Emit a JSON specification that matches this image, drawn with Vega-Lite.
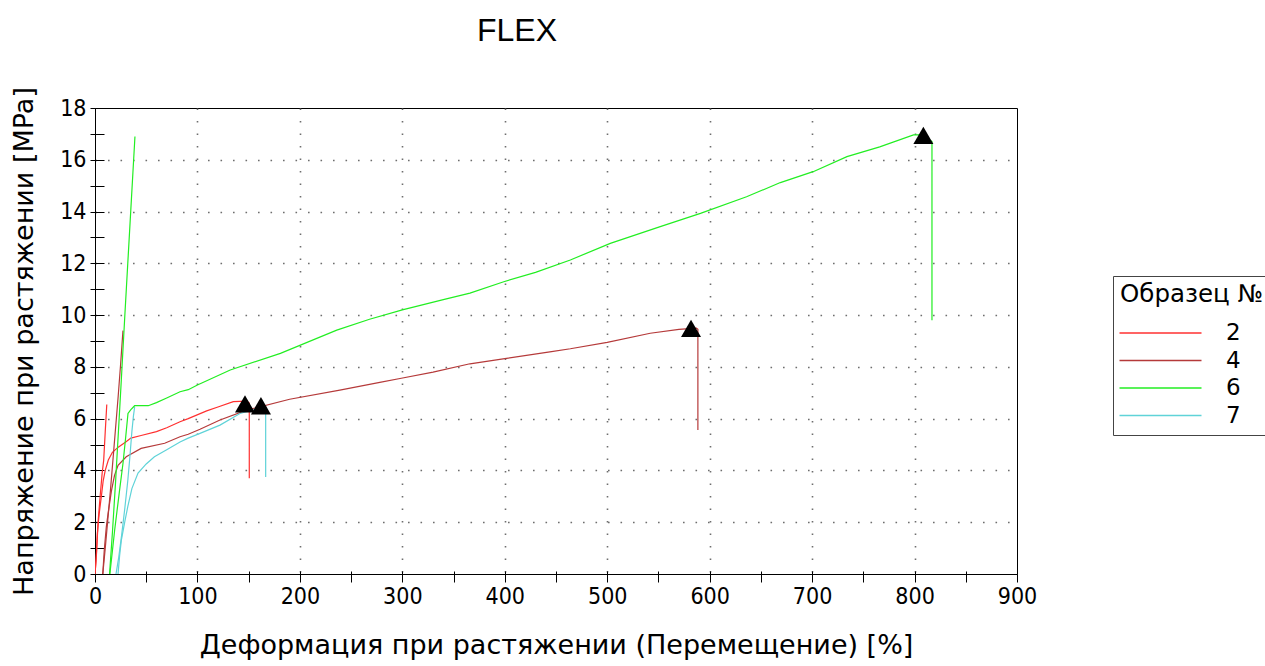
{
  "$schema": "https://vega.github.io/schema/vega-lite/v6.json",
  "width": 922,
  "height": 466,
  "autosize": {"type": "none"},
  "padding": {"left": 95, "top": 108, "right": 248, "bottom": 92},
  "background": "white",
  "config": {
    "view": {"stroke": "black", "strokeWidth": 1},
    "axis": {"labelFlush": false, "labelOverlap": false}
  },
  "title": {
    "text": "FLEX",
    "font": "Liberation Sans",
    "fontSize": 32,
    "fontWeight": "normal",
    "color": "black",
    "anchor": "middle",
    "dx": -39,
    "baseline": "alphabetic",
    "offset": 14
  },
  "datasets": {
    "curves": [
      {"s":"2","c":"m","i":0,"x":0,"y":0},{"s":"2","c":"m","i":1,"x":1,"y":0.5},{"s":"2","c":"m","i":2,"x":2.3,"y":1.57},{"s":"2","c":"m","i":3,"x":4,"y":2.3},{"s":"2","c":"m","i":4,"x":6.2,"y":3.0},{"s":"2","c":"m","i":5,"x":8,"y":3.6},{"s":"2","c":"m","i":6,"x":10,"y":4.0},{"s":"2","c":"m","i":7,"x":13,"y":4.4},{"s":"2","c":"m","i":8,"x":17,"y":4.7},{"s":"2","c":"m","i":9,"x":22.7,"y":4.9},{"s":"2","c":"m","i":10,"x":30,"y":5.1},{"s":"2","c":"m","i":11,"x":35,"y":5.25},{"s":"2","c":"m","i":12,"x":45,"y":5.35},{"s":"2","c":"m","i":13,"x":60,"y":5.5},{"s":"2","c":"m","i":14,"x":70,"y":5.65},{"s":"2","c":"m","i":15,"x":83,"y":5.88},{"s":"2","c":"m","i":16,"x":91,"y":6.0},{"s":"2","c":"m","i":17,"x":109,"y":6.3},{"s":"2","c":"m","i":18,"x":120,"y":6.45},{"s":"2","c":"m","i":19,"x":135,"y":6.66},{"s":"2","c":"m","i":20,"x":148,"y":6.68},{"s":"2","c":"m","i":21,"x":150.6,"y":6.6},{"s":"2","c":"m","i":22,"x":150.6,"y":3.7},
      {"s":"2","c":"s","i":0,"x":0,"y":0},{"s":"2","c":"s","i":1,"x":1.5,"y":0.8},{"s":"2","c":"s","i":2,"x":3,"y":2.0},{"s":"2","c":"s","i":3,"x":5,"y":3.0},{"s":"2","c":"s","i":4,"x":7,"y":3.9},{"s":"2","c":"s","i":5,"x":8.5,"y":4.4},{"s":"2","c":"s","i":6,"x":10,"y":5.5},{"s":"2","c":"s","i":7,"x":11.5,"y":6.55},
      {"s":"4","c":"m","i":0,"x":7.6,"y":0},{"s":"4","c":"m","i":1,"x":9,"y":0.9},{"s":"4","c":"m","i":2,"x":11,"y":1.8},{"s":"4","c":"m","i":3,"x":13,"y":2.4},{"s":"4","c":"m","i":4,"x":16,"y":3.2},{"s":"4","c":"m","i":5,"x":19,"y":3.8},{"s":"4","c":"m","i":6,"x":22.5,"y":4.2},{"s":"4","c":"m","i":7,"x":30.5,"y":4.53},{"s":"4","c":"m","i":8,"x":45,"y":4.85},{"s":"4","c":"m","i":9,"x":68,"y":5.05},{"s":"4","c":"m","i":10,"x":83,"y":5.3},{"s":"4","c":"m","i":11,"x":91,"y":5.4},{"s":"4","c":"m","i":12,"x":102.5,"y":5.59},{"s":"4","c":"m","i":13,"x":122,"y":5.95},{"s":"4","c":"m","i":14,"x":148,"y":6.33},{"s":"4","c":"m","i":15,"x":190,"y":6.75},{"s":"4","c":"m","i":16,"x":239,"y":7.1},{"s":"4","c":"m","i":17,"x":278,"y":7.4},{"s":"4","c":"m","i":18,"x":299,"y":7.56},{"s":"4","c":"m","i":19,"x":330,"y":7.8},{"s":"4","c":"m","i":20,"x":366,"y":8.12},{"s":"4","c":"m","i":21,"x":400,"y":8.32},{"s":"4","c":"m","i":22,"x":444,"y":8.58},{"s":"4","c":"m","i":23,"x":464,"y":8.7},{"s":"4","c":"m","i":24,"x":500,"y":8.95},{"s":"4","c":"m","i":25,"x":542,"y":9.3},{"s":"4","c":"m","i":26,"x":570,"y":9.45},{"s":"4","c":"m","i":27,"x":587,"y":9.5},{"s":"4","c":"m","i":28,"x":588.5,"y":9.45},{"s":"4","c":"m","i":29,"x":588.5,"y":5.56},
      {"s":"4","c":"s","i":0,"x":7.6,"y":0},{"s":"4","c":"s","i":1,"x":10,"y":1.0},{"s":"4","c":"s","i":2,"x":12.5,"y":2.1},{"s":"4","c":"s","i":3,"x":15,"y":3.2},{"s":"4","c":"s","i":4,"x":17.5,"y":4.4},{"s":"4","c":"s","i":5,"x":20,"y":5.6},{"s":"4","c":"s","i":6,"x":22.5,"y":6.8},{"s":"4","c":"s","i":7,"x":25,"y":8.1},{"s":"4","c":"s","i":8,"x":27.3,"y":9.4},
      {"s":"6","c":"m","i":0,"x":14.5,"y":0},{"s":"6","c":"m","i":1,"x":17,"y":0.9},{"s":"6","c":"m","i":2,"x":19.2,"y":1.7},{"s":"6","c":"m","i":3,"x":22,"y":2.6},{"s":"6","c":"m","i":4,"x":24,"y":3.24},{"s":"6","c":"m","i":5,"x":27.3,"y":4.27},{"s":"6","c":"m","i":6,"x":30,"y":5.3},{"s":"6","c":"m","i":7,"x":32.2,"y":6.2},{"s":"6","c":"m","i":8,"x":35,"y":6.35},{"s":"6","c":"m","i":9,"x":38.7,"y":6.5},{"s":"6","c":"m","i":10,"x":52,"y":6.5},{"s":"6","c":"m","i":11,"x":60,"y":6.62},{"s":"6","c":"m","i":12,"x":70,"y":6.8},{"s":"6","c":"m","i":13,"x":83,"y":7.04},{"s":"6","c":"m","i":14,"x":91,"y":7.12},{"s":"6","c":"m","i":15,"x":100,"y":7.3},{"s":"6","c":"m","i":16,"x":132,"y":7.88},{"s":"6","c":"m","i":17,"x":181,"y":8.52},{"s":"6","c":"m","i":18,"x":236,"y":9.42},{"s":"6","c":"m","i":19,"x":268,"y":9.84},{"s":"6","c":"m","i":20,"x":300,"y":10.2},{"s":"6","c":"m","i":21,"x":340,"y":10.6},{"s":"6","c":"m","i":22,"x":366,"y":10.85},{"s":"6","c":"m","i":23,"x":399,"y":11.29},{"s":"6","c":"m","i":24,"x":430,"y":11.65},{"s":"6","c":"m","i":25,"x":464,"y":12.13},{"s":"6","c":"m","i":26,"x":503,"y":12.77},{"s":"6","c":"m","i":27,"x":551,"y":13.41},{"s":"6","c":"m","i":28,"x":591,"y":13.93},{"s":"6","c":"m","i":29,"x":636,"y":14.57},{"s":"6","c":"m","i":30,"x":669,"y":15.12},{"s":"6","c":"m","i":31,"x":701,"y":15.54},{"s":"6","c":"m","i":32,"x":734,"y":16.12},{"s":"6","c":"m","i":33,"x":766,"y":16.5},{"s":"6","c":"m","i":34,"x":799,"y":16.96},{"s":"6","c":"m","i":35,"x":808,"y":16.96},{"s":"6","c":"m","i":36,"x":817,"y":16.7},{"s":"6","c":"m","i":37,"x":817,"y":9.8},
      {"s":"6","c":"s","i":0,"x":14.2,"y":0},{"s":"6","c":"s","i":1,"x":17,"y":1.6},{"s":"6","c":"s","i":2,"x":20,"y":3.5},{"s":"6","c":"s","i":3,"x":23,"y":5.6},{"s":"6","c":"s","i":4,"x":25.7,"y":7.5},{"s":"6","c":"s","i":5,"x":29,"y":9.9},{"s":"6","c":"s","i":6,"x":32,"y":12.0},{"s":"6","c":"s","i":7,"x":35,"y":14.1},{"s":"6","c":"s","i":8,"x":37,"y":15.5},{"s":"6","c":"s","i":9,"x":39,"y":16.9},
      {"s":"7","c":"m","i":0,"x":22.5,"y":0},{"s":"7","c":"m","i":1,"x":24,"y":0.7},{"s":"7","c":"m","i":2,"x":25.7,"y":1.3},{"s":"7","c":"m","i":3,"x":29,"y":2.0},{"s":"7","c":"m","i":4,"x":32,"y":2.6},{"s":"7","c":"m","i":5,"x":36,"y":3.3},{"s":"7","c":"m","i":6,"x":42,"y":3.9},{"s":"7","c":"m","i":7,"x":50,"y":4.25},{"s":"7","c":"m","i":8,"x":58,"y":4.53},{"s":"7","c":"m","i":9,"x":70,"y":4.8},{"s":"7","c":"m","i":10,"x":83,"y":5.1},{"s":"7","c":"m","i":11,"x":91,"y":5.25},{"s":"7","c":"m","i":12,"x":102.5,"y":5.43},{"s":"7","c":"m","i":13,"x":122,"y":5.75},{"s":"7","c":"m","i":14,"x":141.5,"y":6.2},{"s":"7","c":"m","i":15,"x":155,"y":6.35},{"s":"7","c":"m","i":16,"x":163,"y":6.45},{"s":"7","c":"m","i":17,"x":166.6,"y":6.45},{"s":"7","c":"m","i":18,"x":166.6,"y":3.75},
      {"s":"7","c":"s","i":0,"x":20.5,"y":0},{"s":"7","c":"s","i":1,"x":23,"y":0.6},{"s":"7","c":"s","i":2,"x":26,"y":1.5},{"s":"7","c":"s","i":3,"x":29,"y":2.5},{"s":"7","c":"s","i":4,"x":32,"y":3.6},{"s":"7","c":"s","i":5,"x":34,"y":4.5},{"s":"7","c":"s","i":6,"x":36,"y":5.5},{"s":"7","c":"s","i":7,"x":37.5,"y":6.1},{"s":"7","c":"s","i":8,"x":38.7,"y":6.45}
    ],
    "breaks": [
      {"s":"2","x":146.4,"y":6.57},
      {"s":"7","x":162,"y":6.5},
      {"s":"4","x":581.8,"y":9.49},
      {"s":"6","x":808.6,"y":16.94}
    ]
  },
  "resolve": {"axis": {"x": "independent", "y": "independent"}},
  "layer": [
    {
      "data": {"name": "curves"},
      "mark": {"type": "line", "strokeWidth": 1.2, "clip": true},
      "encoding": {
        "x": {
          "field": "x", "type": "quantitative",
          "scale": {"domain": [0, 900], "nice": false, "zero": false},
          "axis": {
            "orient": "bottom",
            "values": [0,50,100,150,200,250,300,350,400,450,500,550,600,650,700,750,800,850,900],
            "labelExpr": "datum.value % 100 === 0 ? datum.label : ''",
            "grid": true,
            "gridColor": "#6e6e6e",
            "gridWidth": 1.6,
            "gridDash": [1.6, 10.9],
            "gridOpacity": {"condition": {"test": "datum.value % 100 !== 0 || datum.value === 0 || datum.value === 900", "value": 0}, "value": 1},
            "domainColor": "black",
            "tickColor": "black",
            "tickSize": 8,
            "labelFont": "DejaVu Sans Condensed",
            "labelFontSize": 23,
            "labelColor": "black",
            "labelPadding": 3,
            "title": "Деформация при растяжении (Перемещение) [%]",
            "titleFont": "DejaVu Sans",
            "titleFontSize": 27,
            "titleFontWeight": "normal",
            "titleColor": "black",
            "titlePadding": 24
          }
        },
        "y": {
          "field": "y", "type": "quantitative",
          "scale": {"domain": [0, 18], "nice": false},
          "axis": {
            "orient": "left",
            "values": [0,1,2,3,4,5,6,7,8,9,10,11,12,13,14,15,16,17,18],
            "labelExpr": "datum.value % 2 === 0 ? datum.label : ''",
            "grid": true,
            "gridColor": "#6e6e6e",
            "gridWidth": 1.6,
            "gridDash": [1.6, 10.9],
            "gridOpacity": {"condition": {"test": "datum.value % 2 !== 0 || datum.value === 0 || datum.value === 18", "value": 0}, "value": 1},
            "domainColor": "black",
            "tickColor": "black",
            "tickSize": 5,
            "labelFont": "DejaVu Sans Condensed",
            "labelFontSize": 23,
            "labelColor": "black",
            "labelPadding": 4,
            "title": "Напряжение при растяжении [MPa]",
            "titleFont": "DejaVu Sans",
            "titleFontSize": 27,
            "titleFontWeight": "normal",
            "titleColor": "black",
            "titlePadding": 21
          }
        },
        "color": {
          "field": "s", "type": "nominal",
          "scale": {"domain": ["2","4","6","7"], "range": ["#ff3030","#b53a3a","#22ee22","#5fd3d8"]},
          "legend": {
            "orient": "none",
            "legendX": 1018,
            "legendY": 168,
            "title": "Образец №",
            "titleFont": "DejaVu Sans",
            "titleFontSize": 24.5,
            "titleFontWeight": "normal",
            "titleColor": "black",
            "titlePadding": 14,
            "labelFont": "DejaVu Sans",
            "labelFontSize": 23,
            "labelColor": "black",
            "labelOffset": 83,
            "symbolType": "M-1.2,0H7",
            "symbolSize": 400,
            "symbolStrokeWidth": 1.5,
            "rowPadding": 3.5,
            "padding": 7,
            "strokeColor": "#444444",
            "fillColor": "white"
          }
        },
        "detail": {"field": "c"},
        "order": {"field": "i", "type": "quantitative"}
      }
    },
    {
      "data": {"name": "breaks"},
      "mark": {"type": "point", "shape": "triangle-up", "filled": true, "color": "black", "size": 400, "opacity": 1},
      "encoding": {
        "x": {
          "field": "x", "type": "quantitative",
          "scale": {"domain": [0, 900], "nice": false, "zero": false},
          "axis": {
            "orient": "bottom",
            "values": [0,50,100,150,200,250,300,350,400,450,500,550,600,650,700,750,800,850,900],
            "labels": false, "grid": false, "domain": false,
            "ticks": true, "tickSize": -3, "tickColor": "black", "title": null
          }
        },
        "y": {
          "field": "y", "type": "quantitative",
          "scale": {"domain": [0, 18], "nice": false},
          "axis": {
            "orient": "left",
            "values": [0,1,2,3,4,5,6,7,8,9,10,11,12,13,14,15,16,17,18],
            "labels": false, "grid": false, "domain": false,
            "ticks": true, "tickSize": -9, "tickColor": "black", "title": null
          }
        }
      }
    }
  ]
}
